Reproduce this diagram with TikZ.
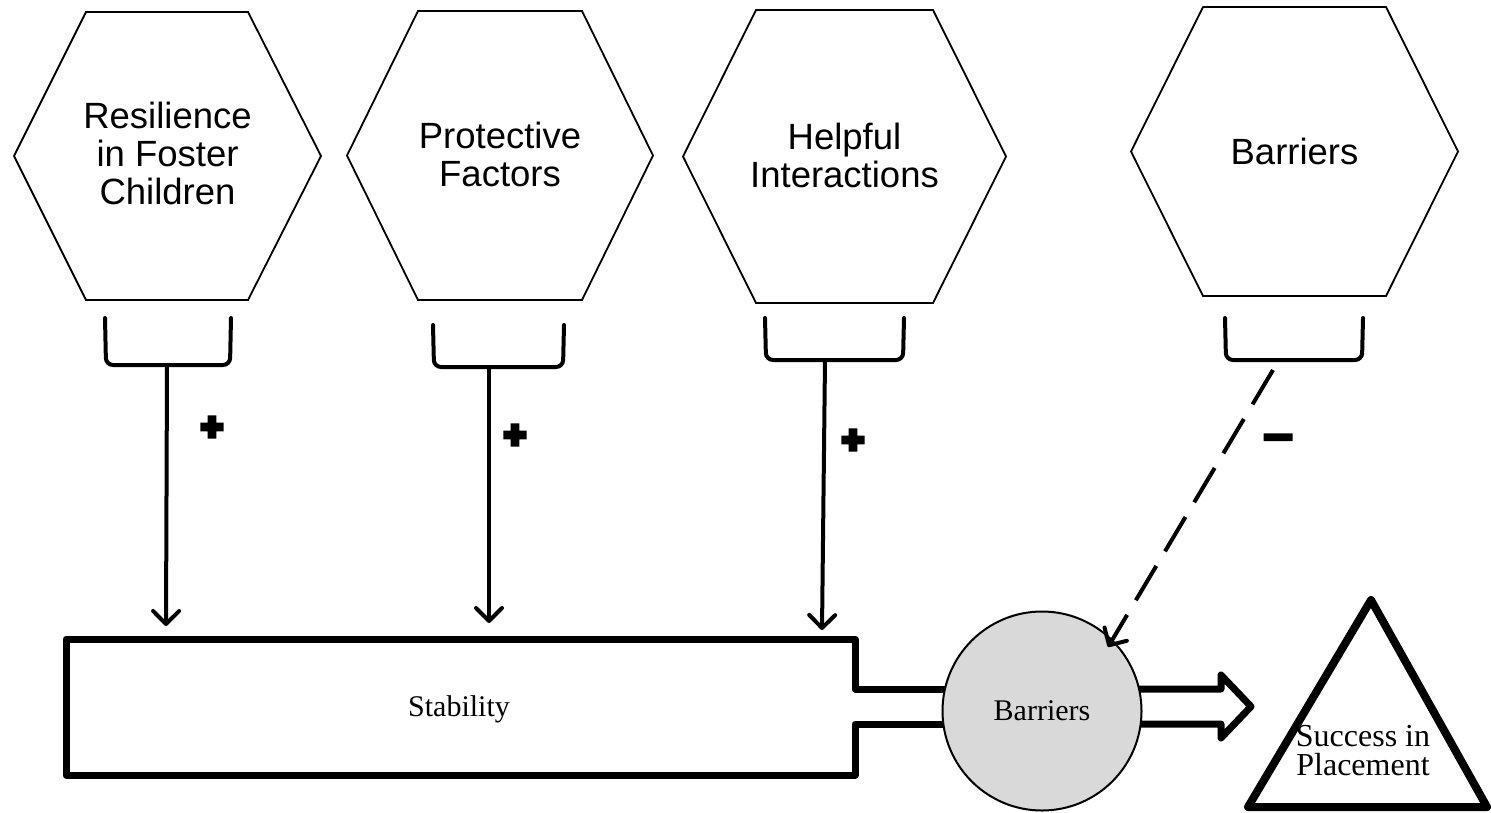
\documentclass[tikz,border=0pt]{standalone}
\usepackage{fontspec}
\setmainfont{Liberation Serif}
\newfontfamily\hexfont{Liberation Sans}
\newfontfamily\plusfont[FakeBold=24]{DejaVu Sans}
\newfontfamily\minusfont[FakeBold=12,FakeStretch=1.5]{DejaVu Sans}
\usetikzlibrary{arrows.meta}
\definecolor{barfill}{HTML}{D9D9D9}
\begin{document}
\begin{tikzpicture}[x=1pt,y=-1pt,
  hexline/.style={draw, line width=1.8pt, line join=miter},
  hextext/.style={font=\hexfont\fontsize{36.5}{38}\selectfont, align=center, inner sep=0pt},
  bracket/.style={draw, line width=4pt, rounded corners=7pt, line cap=round},
  link/.style={draw, line width=4pt, -{Straight Barb[length=13pt,width=26pt,round]}},
  dashlink/.style={link, dash pattern=on 40pt off 17pt},
  outline/.style={draw, line width=7pt, line join=round},
  sign/.style={font=\plusfont\fontsize{27}{27}\selectfont, inner sep=0pt},
  minus/.style={font=\minusfont\fontsize{40}{40}\selectfont, inner sep=0pt},
  serif/.style={font=\fontsize{30}{30}\selectfont, inner sep=0pt}]
\useasboundingbox (0,0) rectangle (1491,812);

% the four factor hexagons
\draw[hexline] (14,156) -- (86,12) -- (248,12) -- (321,156) -- (248,300) -- (86,300) -- cycle;
\draw[hexline] (347,155.5) -- (418,11) -- (582,11) -- (653,155.5) -- (582,300) -- (418,300) -- cycle;
\draw[hexline] (683,156.5) -- (756,10) -- (933,10) -- (1006,156.5) -- (933,303) -- (756,303) -- cycle;
\draw[hexline] (1131,151.5) -- (1203,7) -- (1386,7) -- (1458,151.5) -- (1386,296) -- (1203,296) -- cycle;
\node[hextext] (res) at (167.5,153) {Resilience\\in Foster\\Children};
\node[hextext] (prot) at (500,154) {Protective\\Factors};
\node[hextext] (help) at (844.5,155.5) {Helpful\\Interactions};
\node[hextext] (barh) at (1294.5,151) {Barriers};

% brackets under the hexagons
\draw[bracket] (105,318) -- (106,365) -- (230,365) -- (231,318);
\draw[bracket] (433,325) -- (434,367) -- (563,367) -- (564,325);
\draw[bracket] (765,318) -- (766,360) -- (903,360) -- (904,318);
\draw[bracket] (1225,318) -- (1226,360) -- (1362,360) -- (1363,318);
\coordinate (bres) at (167,365);
\coordinate (bprot) at (489,367);
\coordinate (bhelp) at (825,360);
\coordinate (bbar) at (1273,370);

% arrow ends on the stability block and the barrier circle
\coordinate (tres) at (166,626);
\coordinate (tprot) at (489,623);
\coordinate (thelp) at (822,630);
\coordinate (tbar) at (1108,647);

% stability block with its outlet channel
\draw[outline] (1000,689) -- (855,689) -- (855,639) -- (66,639) -- (66,775)
  -- (855,775) -- (855,724) -- (1000,724);
\node[serif, anchor=base] (stab) at (459,716) {Stability};

% block arrow towards success
\draw[outline] (1042,689) -- (1221,689) -- (1221,675) -- (1251,706.5)
  -- (1221,738) -- (1221,724) -- (1042,724);

% barrier circle
\node[circle, draw, line width=2pt, fill=barfill, minimum size=199pt, inner sep=0pt,
  font=\fontsize{30}{30}\selectfont] (barc) at (1042,711) {Barriers};

% success triangle
\draw[outline, line width=8pt] (1371,600) -- (1487,807) -- (1248,807) -- cycle;
\node[align=center, inner sep=0pt, font=\fontsize{32}{29}\selectfont] (succ) at (1363,751)
  {Success in\\Placement};

% influences
\draw[link] (bres) -- (tres);
\draw[link] (bprot) -- (tprot);
\draw[link] (bhelp) -- (thelp);
\draw[dashlink] (bbar) -- (tbar);

\node[sign] (pres) at (212,427) {+};
\node[sign] (pprot) at (515,435) {+};
\node[sign] (phelp) at (853,440) {+};
\node[minus] (mbar) at (1278,442) {–};
\end{tikzpicture}
\end{document}
